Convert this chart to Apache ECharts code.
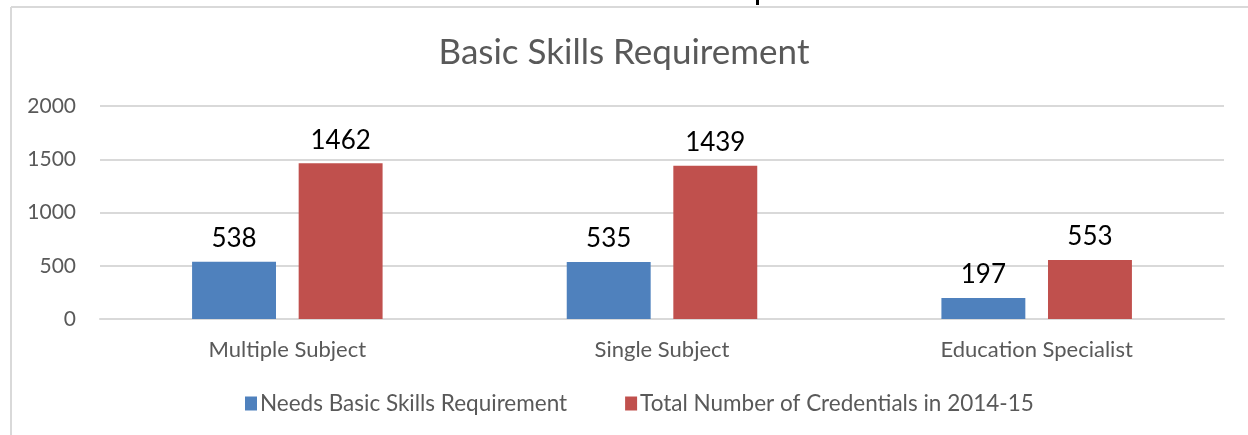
<!DOCTYPE html>
<html>
<head>
<meta charset="utf-8">
<script src="https://cdn.jsdelivr.net/npm/echarts@6/dist/echarts.min.js"></script>
<style>
  html, body { margin: 0; padding: 0; background: #fff; }
  #myChart { width: 1248px; height: 435px; }
</style>
</head>
<body>
<div id="myChart"></div>
<script>
// chart data
var categories = ['Multiple Subject', 'Single Subject', 'Education Specialist'];
var needsBasicSkills = [538, 535, 197];
var totalCredentials = [1462, 1439, 553];
var seriesNames = ['Needs Basic Skills Requirement', 'Total Number of Credentials in 2014-15'];
var yTicks = [0, 500, 1000, 1500, 2000];

document.addEventListener('DOMContentLoaded', () => {
    var myChart = echarts.init(document.getElementById('myChart'));
    var font = 'Lato, "Open Sans", sans-serif';

    var labelStyle = {
        show: true,
        position: 'top',
        distance: 10,
        color: '#000',
        fontSize: 26,
        fontFamily: font
    };

    myChart.setOption({
        animation: false,
        title: {
            text: 'Basic Skills Requirement',
            left: 'center',
            top: 30,
            textStyle: { color: '#595959', fontSize: 35, fontWeight: 'normal', fontFamily: font }
        },
        // chart area border (left and top only are visible in the crop), plus the clipped heading above it
        graphic: [
            { type: 'line', shape: { x1: 11, y1: 7, x2: 1248, y2: 7 }, style: { stroke: '#D9D9D9', lineWidth: 2 } },
            { type: 'line', shape: { x1: 11, y1: 7, x2: 11, y2: 435 }, style: { stroke: '#D9D9D9', lineWidth: 2 } },
            { type: 'rect', shape: { x: 756, y: 0, width: 3, height: 5 }, style: { fill: '#000' } }
        ],
        legend: {
            bottom: 15,
            left: 240,
            itemWidth: 12,
            itemHeight: 14,
            itemGap: 58,
            icon: 'rect',
            textStyle: { color: '#595959', fontSize: 22.5, fontFamily: font, padding: [0, 0, 0, -2] },
            data: seriesNames
        },
        grid: { left: 100, right: 24, top: 106, bottom: 116 },
        xAxis: {
            type: 'category',
            data: categories,
            axisLine: { lineStyle: { color: '#D9D9D9', width: 2 } },
            axisTick: { show: false },
            axisLabel: { color: '#595959', fontSize: 22, fontFamily: font, margin: 20 }
        },
        yAxis: {
            type: 'value',
            min: yTicks[0],
            max: yTicks[yTicks.length - 1],
            interval: 500,
            axisLine: { show: false },
            axisTick: { show: false },
            splitLine: { lineStyle: { color: '#D9D9D9', width: 2 } },
            axisLabel: { color: '#595959', fontSize: 21, fontFamily: font, margin: 24, formatter: v => String(v) }
        },
        series: [
            {
                name: seriesNames[0],
                type: 'bar',
                data: needsBasicSkills,
                barWidth: '22.4%',
                barGap: '27%',
                itemStyle: { color: '#4F81BD' },
                label: labelStyle
            },
            {
                name: seriesNames[1],
                type: 'bar',
                data: totalCredentials,
                barWidth: '22.4%',
                itemStyle: { color: '#C0504D' },
                label: labelStyle
            }
        ]
    });
});
</script>
</body>
</html>
